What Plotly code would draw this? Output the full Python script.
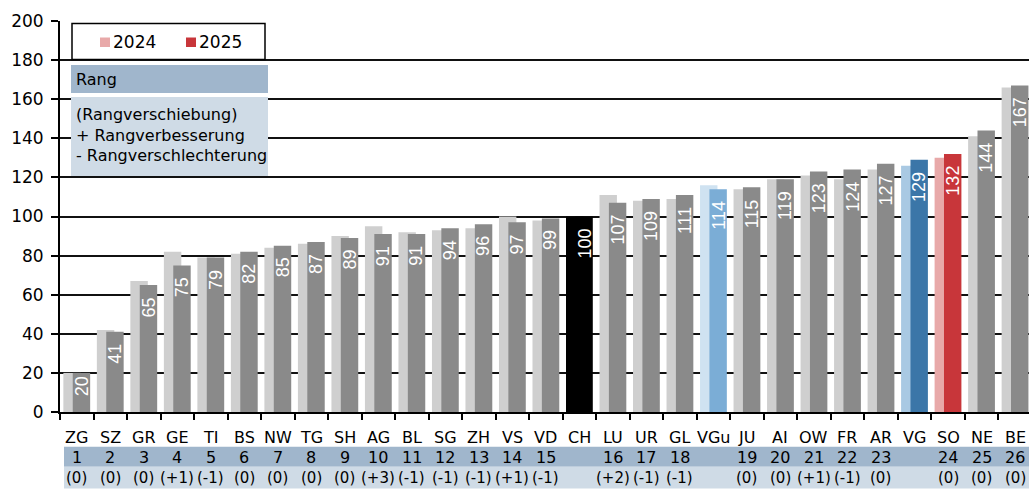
import plotly.graph_objects as go

# Kantone und Vergleichsgrössen
cantons = ["ZG", "SZ", "GR", "GE", "TI", "BS", "NW", "TG", "SH", "AG", "BL", "SG", "ZH", "VS", "VD",
           "CH", "LU", "UR", "GL", "VGu", "JU", "AI", "OW", "FR", "AR", "VG", "SO", "NE", "BE"]
index_2024 = [20, 42, 67, 82, 79, 81, 84, 86, 90, 95, 92, 93, 94, 100, 98,
              100, 111, 108, 109, 116, 114, 119, 121, 119, 124, 126, 130, 141, 166]
index_2025 = [20, 41, 65, 75, 79, 82, 85, 87, 89, 91, 91, 94, 96, 97, 99,
              100, 107, 109, 111, 114, 115, 119, 123, 124, 127, 129, 132, 144, 167]
ranks = ["1", "2", "3", "4", "5", "6", "7", "8", "9", "10", "11", "12", "13", "14", "15",
         "", "16", "17", "18", "", "19", "20", "21", "22", "23", "", "24", "25", "26"]
rank_shift = ["(0)", "(0)", "(0)", "(+1)", "(-1)", "(0)", "(0)", "(0)", "(0)", "(+3)", "(-1)", "(-1)",
              "(-1)", "(+1)", "(-1)", "", "(+2)", "(-1)", "(-1)", "", "(0)", "(0)", "(+1)", "(-1)",
              "(0)", "", "(0)", "(0)", "(0)"]
y_ticks = [0, 20, 40, 60, 80, 100, 120, 140, 160, 180, 200]

# Farben
GREY_LIGHT, GREY_DARK = "#cfcfcf", "#8a8a8a"
special_2024 = {"CH": "#000000", "VGu": "#cfe2f1", "VG": "#a9c9e3", "SO": "#e8a9a9"}
special_2025 = {"CH": "#000000", "VGu": "#7badd6", "VG": "#3b76a8", "SO": "#c8363a"}
BAND_DARK, BAND_LIGHT = "#a0b6cc", "#cfdbe6"

colors_2024 = [special_2024.get(c, GREY_LIGHT) for c in cantons]
colors_2025 = [special_2025.get(c, GREY_DARK) for c in cantons]

xs = list(range(len(cantons)))
FONT = "DejaVu Sans"
W, H = 1029, 489
L, R, T, B = 60, 1029, 21, 412


def px_x(px):
    return (px - L) / (R - L)


def px_y(py):
    return (B - py) / (B - T)


fig = go.Figure()
fig.add_trace(go.Bar(x=xs, y=index_2024, offset=-0.40, width=0.52,
                     marker=dict(color=colors_2024, line=dict(width=0)),
                     name="2024", showlegend=False, hoverinfo="skip"))
fig.add_trace(go.Bar(x=xs, y=index_2025, offset=-0.12, width=0.52,
                     marker=dict(color=colors_2025, line=dict(width=0)),
                     name="2025", showlegend=False))

annotations = []
shapes = []

# Werte 2025 in den Balken
for i, v in enumerate(index_2025):
    annotations.append(dict(
        x=i + 0.14, y=v, xref="x", yref="y", text=str(v), showarrow=False,
        textangle=-90, yanchor="top", xanchor="center", yshift=-10 if v > 30 else -1,
        font=dict(family="Liberation Sans", size=18, color="white")))


def label(x, py, text, size=16, xref="paper", xanchor="center"):
    return dict(x=x, y=px_y(py), xref=xref, yref="paper", text=text, showarrow=False,
                xanchor=xanchor, yanchor="middle",
                font=dict(family=FONT, size=size, color="black"))


# Beschriftungszeilen unter der Achse
shapes.append(dict(type="rect", xref="paper", yref="paper", x0=px_x(64), x1=1,
                   y0=px_y(466.7), y1=px_y(446.7), fillcolor=BAND_DARK, line=dict(width=0)))
shapes.append(dict(type="rect", xref="paper", yref="paper", x0=px_x(64), x1=1,
                   y0=px_y(488.5), y1=px_y(466.7), fillcolor=BAND_LIGHT, line=dict(width=0)))
for i in xs:
    annotations.append(label(i, 437, cantons[i], xref="x"))
    if ranks[i]:
        annotations.append(label(i, 457, ranks[i], xref="x"))
    if rank_shift[i]:
        annotations.append(label(i, 478, rank_shift[i], size=15, xref="x"))

# Legende
shapes.append(dict(type="rect", xref="paper", yref="paper", x0=px_x(72), x1=px_x(265),
                   y0=px_y(59.5), y1=px_y(23.5), fillcolor="white", line=dict(color="black", width=1.5)))
shapes.append(dict(type="rect", xref="paper", yref="paper", x0=px_x(100), x1=px_x(110),
                   y0=px_y(47), y1=px_y(37.5), fillcolor=special_2024["SO"], line=dict(width=0)))
shapes.append(dict(type="rect", xref="paper", yref="paper", x0=px_x(186), x1=px_x(196),
                   y0=px_y(47), y1=px_y(37.5), fillcolor=special_2025["SO"], line=dict(width=0)))
annotations.append(label(px_x(111), 42, "2024", size=17, xanchor="left"))
annotations.append(label(px_x(197), 42, "2025", size=17, xanchor="left"))

# Erklärung Rang
shapes.append(dict(type="rect", xref="paper", yref="paper", x0=px_x(71), x1=px_x(268),
                   y0=px_y(93), y1=px_y(65), fillcolor=BAND_DARK, line=dict(width=0)))
shapes.append(dict(type="rect", xref="paper", yref="paper", x0=px_x(71), x1=px_x(268),
                   y0=px_y(176), y1=px_y(97), fillcolor=BAND_LIGHT, line=dict(width=0)))
for text, py in [("Rang", 79), ("(Rangverschiebung)", 114), ("+ Rangverbesserung", 135),
                 ("- Rangverschlechterung", 155.5)]:
    annotations.append(label(px_x(74), py, text, xanchor="left"))

fig.update_layout(
    width=W, height=H,
    margin=dict(l=L, r=W - R, t=T, b=H - B, pad=0),
    barmode="overlay",
    plot_bgcolor="white", paper_bgcolor="white",
    font=dict(family=FONT, size=16, color="black"),
    xaxis=dict(range=[-0.5, 28.417], tickvals=[k - 0.5 for k in range(len(cantons) + 1)],
               showticklabels=False, ticks="outside", ticklen=6, tickwidth=1.5, tickcolor="black",
               showgrid=False, zeroline=False, showline=True, linecolor="black", linewidth=2),
    yaxis=dict(range=[0, 200], tickvals=y_ticks, ticks="outside", ticklen=7, tickwidth=1.5,
               tickcolor="black", ticklabelstandoff=4, showgrid=True, gridcolor="#111111",
               gridwidth=1.5, zeroline=False, showline=True, linecolor="black", linewidth=2,
               tickfont=dict(family=FONT, size=17, color="black")),
    shapes=shapes,
    annotations=annotations,
)

fig.write_html("out.html")
